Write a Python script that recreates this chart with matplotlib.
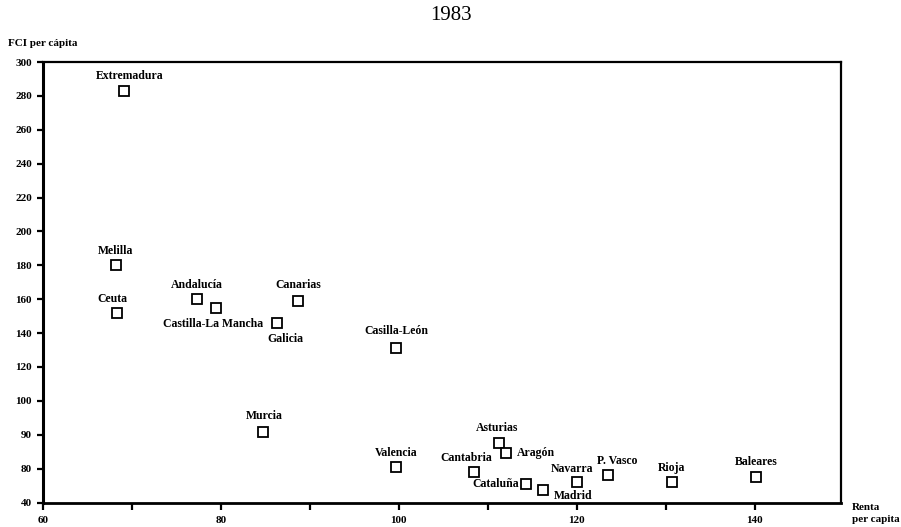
import numpy as np
import matplotlib
matplotlib.use("Agg")
import matplotlib.pyplot as plt

# ---- data ----
regions = ["Extremadura", "Melilla", "Ceuta", "Andalucía", "Castilla-La Mancha",
           "Galicia", "Canarias", "Murcia", "Casilla-León", "Valencia",
           "Cantabria", "Asturias", "Aragón", "Cataluña", "Madrid",
           "Navarra", "P. Vasco", "Rioja", "Baleares"]
renta = [69.1, 68.2, 68.3, 77.3, 79.4,
         86.3, 88.7, 84.7, 99.7, 99.7,
         108.5, 111.3, 112.0, 114.3, 116.2,
         120.0, 123.5, 130.7, 140.2]
fci = [282.6, 180.3, 152.0, 160.3, 155.0,
       146.0, 159.0, 90.8, 131.3, 80.5,
       76.0, 87.6, 84.6, 62.0, 54.8,
       64.2, 72.5, 64.2, 70.0]
y_ticks = [40, 80, 90, 100, 120, 140, 160, 180, 200, 220, 240, 260, 280, 300]
x_ticks = [60, 80, 100, 120, 140]
x_minor = [70, 90, 110, 130]

# label placement (offset in px, ha)
label_pos = {
    "Extremadura": (6, 15, "center"), "Melilla": (0, 14, "center"),
    "Ceuta": (-4, 14, "center"), "Andalucía": (0, 14, "center"),
    "Castilla-La Mancha": (-3, -16, "center"), "Galicia": (8, -16, "center"),
    "Canarias": (0, 16, "center"), "Murcia": (2, 16, "center"),
    "Casilla-León": (0, 17, "center"), "Valencia": (0, 14, "center"),
    "Cantabria": (-8, 14, "center"), "Asturias": (-2, 15, "center"),
    "Aragón": (11, 0, "left"), "Cataluña": (-7, 0, "right"),
    "Madrid": (11, -6, "left"), "Navarra": (-5, 13, "center"),
    "P. Vasco": (9, 14, "center"), "Rioja": (0, 14, "center"),
    "Baleares": (0, 15, "center"),
}

# piecewise axis scale as in the original
seg_v = [40, 80, 90, 100, 300]
seg_p = [0, 1, 2, 3, 13]
def fwd(v):
    return np.interp(v, seg_v, seg_p)
def inv(p):
    return np.interp(p, seg_p, seg_v)

plt.rcParams['font.family'] = ['Liberation Serif', 'DejaVu Serif']

fig = plt.figure(figsize=(9.01, 5.27), dpi=100)
ax = fig.add_axes([43/901, 1-502.5/527, (841-43)/901, (502.5-62)/527])
ax.set_yscale('function', functions=(fwd, inv))
ax.set_xlim(60, 149.7)
ax.set_ylim(40, 300)

ax.plot(renta, fci, linestyle='none', marker='s', markersize=7.5,
        markerfacecolor='white', markeredgecolor='black', markeredgewidth=1.3)

px2pt = 0.72
for name, x, y in zip(regions, renta, fci):
    dx, dy, ha = label_pos[name]
    ax.annotate(name, (x, y), xytext=(dx*px2pt, dy*px2pt), textcoords='offset points',
                ha=ha, va='center', fontsize=8.5, fontweight='bold')

ax.set_yticks(y_ticks)
ax.set_yticklabels([str(t) for t in y_ticks])
ax.set_xticks(x_ticks)
ax.set_xticks(x_minor, minor=True)
ax.tick_params(axis='both', which='both', direction='out', width=1.6, color='black',
               labelsize=8)
ax.tick_params(axis='y', length=4, pad=4)
ax.tick_params(axis='x', which='major', length=5, pad=5)
ax.tick_params(axis='x', which='minor', length=5)
for lab in ax.get_xticklabels() + ax.get_yticklabels():
    lab.set_fontweight('bold')

for s in ax.spines.values():
    s.set_linewidth(1.6)
ax.spines['left'].set_linewidth(2.2)
ax.spines['bottom'].set_linewidth(2.0)

fig.text(451/901, 1-15/527, "1983", ha='center', va='center', fontsize=15)
fig.text(8/901, 1-43/527, "FCI per cápita", ha='left', va='center', fontsize=8, fontweight='bold')
fig.text(852/901, 1-508/527, "Renta", ha='left', va='center', fontsize=8, fontweight='bold')
fig.text(852/901, 1-519/527, "per capita", ha='left', va='center', fontsize=8, fontweight='bold')

fig.savefig("out.png", dpi=100, facecolor='white')
